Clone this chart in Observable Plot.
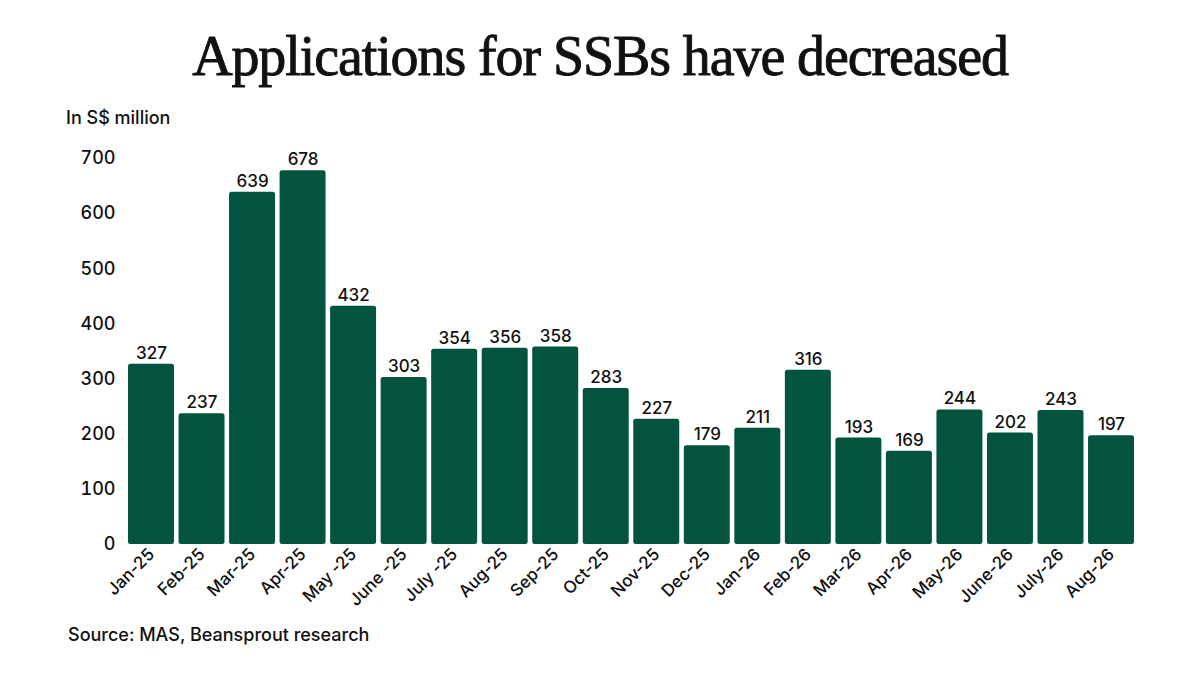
<!DOCTYPE html>
<html>
<head>
<meta charset="utf-8">
<script src="https://cdn.jsdelivr.net/npm/d3@7"></script>
<script src="https://cdn.jsdelivr.net/npm/@observablehq/plot@0.6"></script>
<style>
  html, body { margin: 0; padding: 0; background: #fff; }
  body { width: 1200px; height: 675px; overflow: hidden; font-family: Inter, "Liberation Sans", sans-serif; color: #111; }
  #title { height: 100px; text-align: center; font-family: "Liberation Serif", "DejaVu Serif", serif; font-size: 56px; letter-spacing: -1.1px; line-height: 112px; color: #111; -webkit-text-stroke: 0.9px #111; }
  #unit { height: 36px; padding-left: 66px; font-size: 18px; font-weight: 500; line-height: 36px; }
  #caption { padding-left: 68px; font-size: 18px; font-weight: 500; margin-top: 3px; }
</style>
</head>
<body>
<div id="title">Applications for SSBs have decreased</div>
<div id="unit">In S$ million</div>
<div id="chart"></div>
<div id="caption">Source: MAS, Beansprout research</div>
<script>
const months = ["Jan-25","Feb-25","Mar-25","Apr-25","May -25","June -25","July -25","Aug-25","Sep-25","Oct-25","Nov-25","Dec-25","Jan-26","Feb-26","Mar-26","Apr-26","May-26","June-26","July-26","Aug-26"];
const values = [327,237,639,678,432,303,354,356,358,283,227,179,211,316,193,169,244,202,243,197];
const yTicks = [0,100,200,300,400,500,600,700];

const data = months.map((m, i) => ({month: m, value: values[i]}));

const chart = Plot.plot({
  width: 1200,
  height: 485,
  marginLeft: 128,
  marginRight: 66,
  marginTop: 22,
  marginBottom: 77,
  style: {fontFamily: "Inter, 'Liberation Sans', sans-serif", fontSize: "16px", color: "#111"},
  x: {domain: months, paddingInner: 0.09, paddingOuter: 0, round: false, label: null, tickSize: 0, tickRotate: -45, tickPadding: 7},
  y: {domain: [0, 700], ticks: yTicks, label: null, tickSize: 0, tickPadding: 13},
  marks: [
    Plot.barY(data, {x: "month", y: "value", fill: "#03543e", rx: 2.5}),
    Plot.text(data, {x: "month", y: "value", text: d => String(d.value), dy: -11, fontSize: 17, fontWeight: 500, fill: "#111"})
  ]
});
document.getElementById("chart").appendChild(chart);
chart.querySelectorAll("g[aria-label='y-axis tick label'] text").forEach(t => { t.style.fontSize = "18px"; t.style.fontWeight = "500"; });
chart.querySelectorAll("g[aria-label='x-axis tick label'] text").forEach(t => { t.style.fontSize = "17px"; t.style.fontWeight = "500"; });
</script>
</body>
</html>
